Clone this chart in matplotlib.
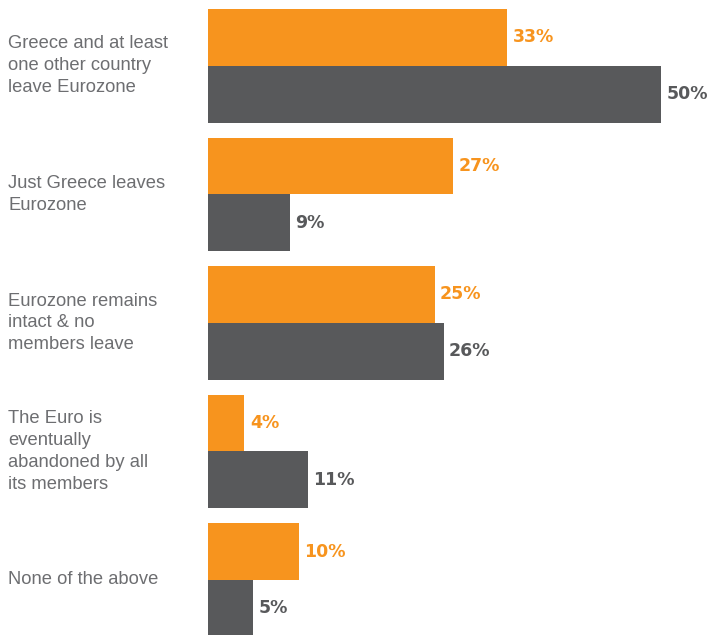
import matplotlib.pyplot as plt
import numpy as np

categories = ['Greece and at least\none other country\nleave Eurozone',
              'Just Greece leaves\nEurozone',
              'Eurozone remains\nintact & no\nmembers leave',
              'The Euro is\neventually\nabandoned by all\nits members',
              'None of the above']
orange_vals = [33, 27, 25, 4, 10]
gray_vals = [50, 9, 26, 11, 5]

orange = '#F7941E'
gray = '#58595B'
text_gray = '#6D6E71'

fig = plt.figure(figsize=(7.1, 6.35), dpi=100)
ax = fig.add_axes([208 / 710, 0, 502 / 710, 1])

y = np.arange(len(categories))
h = 0.443
ax.barh(y - h / 2, orange_vals, height=h, color=orange)
ax.barh(y + h / 2, gray_vals, height=h, color=gray)

ax.set_xlim(0, 502 / 9.06)
ax.set_ylim(4.428, -0.513)
ax.axis('off')

# value labels next to bar ends
for i in range(len(categories)):
    ax.annotate(f'{orange_vals[i]}%', (orange_vals[i], y[i] - h / 2),
                xytext=(4, 0), textcoords='offset points', va='center',
                ha='left', color=orange, fontsize=12.5, fontweight='bold',
                family='DejaVu Sans')
    ax.annotate(f'{gray_vals[i]}%', (gray_vals[i], y[i] + h / 2),
                xytext=(4, 0), textcoords='offset points', va='center',
                ha='left', color=gray, fontsize=12.5, fontweight='bold',
                family='DejaVu Sans')

# category labels on the left
for i, label in enumerate(categories):
    ax.annotate(label, xy=(0, y[i]), xycoords=('figure fraction', 'data'),
                xytext=(6, 0), textcoords='offset points', va='center',
                ha='left', color=text_gray, fontsize=13.2,
                family='Liberation Sans', linespacing=1.38)

fig.savefig('out.png', dpi=100)
